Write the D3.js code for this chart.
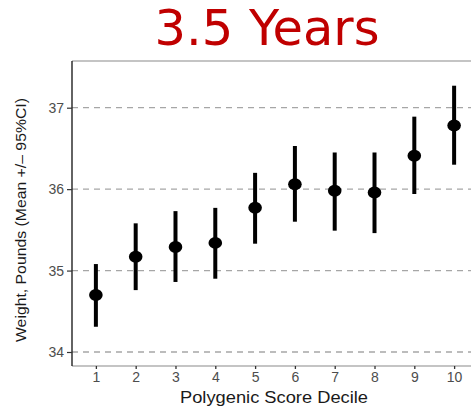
<!DOCTYPE html>
<html>
<head>
<meta charset="utf-8">
<script src="https://cdn.jsdelivr.net/npm/d3@7"></script>
<style>
  body { margin: 0; background: #fff; }
  svg { display: block; }
</style>
</head>
<body>
<div id="chart"></div>
<script>
// Decile means with 95% CI
const deciles = [1, 2, 3, 4, 5, 6, 7, 8, 9, 10];
const means = [34.70, 35.17, 35.29, 35.34, 35.77, 36.06, 35.98, 35.96, 36.41, 36.78];
const lower = [34.31, 34.76, 34.86, 34.90, 35.33, 35.60, 35.49, 35.46, 35.94, 36.30];
const upper = [35.08, 35.58, 35.73, 35.77, 36.20, 36.53, 36.45, 36.45, 36.89, 37.27];
const yTicks = [34, 35, 36, 37];

const width = 471, height = 412;
const panel = {left: 72, top: 61, right: 480, bottom: 366};

const svg = d3.select('#chart').append('svg')
  .attr('width', width)
  .attr('height', height);

const x = d3.scaleLinear().domain([0.4, 10.6]).range([panel.left, panel.right - 2]);
const y = d3.scaleLinear().domain([34, 37]).range([352, 107.7]);

// Title
svg.append('text')
  .attr('x', 267)
  .attr('y', 45)
  .attr('text-anchor', 'middle')
  .style('font-family', 'DejaVu Sans, sans-serif')
  .style('font-size', '49.5px')
  .style('fill', '#c00000')
  .text('3.5 Years');

// Dashed grid lines
svg.append('g')
  .selectAll('line')
  .data(yTicks)
  .join('line')
  .attr('x1', panel.left)
  .attr('x2', width)
  .attr('y1', d => y(d))
  .attr('y2', d => y(d))
  .attr('stroke', '#a6a6a6')
  .attr('stroke-width', 1.3)
  .attr('stroke-dasharray', '6,5');

// Top and bottom border of panel
svg.append('g')
  .selectAll('line')
  .data([panel.top, panel.bottom])
  .join('line')
  .attr('x1', panel.left).attr('x2', width)
  .attr('y1', d => d).attr('y2', d => d)
  .attr('stroke', '#8a8a8a')
  .attr('stroke-width', 1.2);

// Y axis
const yAxis = svg.append('g')
  .attr('transform', 'translate(' + panel.left + ',0)')
  .call(d3.axisLeft(y).tickValues(yTicks).tickFormat(d3.format('d')).tickSize(5).tickPadding(3));
yAxis.select('.domain')
  .attr('d', 'M0,' + panel.top + 'V' + panel.bottom)
  .attr('stroke', '#222')
  .attr('stroke-width', 1.4);
yAxis.selectAll('.tick line').attr('stroke', '#333').attr('stroke-width', 1.2);
yAxis.selectAll('.tick text')
  .style('font-family', 'Liberation Sans, Arial, sans-serif')
  .style('font-size', '14px')
  .style('fill', '#4d4d4d');

// X axis (ticks only)
const xAxis = svg.append('g')
  .attr('transform', 'translate(0,' + panel.bottom + ')')
  .call(d3.axisBottom(x).tickValues(deciles).tickFormat(d3.format('d')).tickSize(3).tickPadding(3));
xAxis.select('.domain').remove();
xAxis.selectAll('.tick line').attr('stroke', '#333').attr('stroke-width', 1.3);
xAxis.selectAll('.tick text')
  .style('font-family', 'Liberation Sans, Arial, sans-serif')
  .style('font-size', '14px')
  .style('fill', '#4d4d4d');

// Axis titles
svg.append('text')
  .attr('x', 274)
  .attr('y', 403)
  .attr('text-anchor', 'middle')
  .attr('textLength', 188)
  .attr('lengthAdjust', 'spacingAndGlyphs')
  .style('font-family', 'Liberation Sans, Arial, sans-serif')
  .style('font-size', '16px')
  .style('fill', '#1a1a1a')
  .text('Polygenic Score Decile');

svg.append('text')
  .attr('transform', 'translate(26,220) rotate(-90)')
  .attr('text-anchor', 'middle')
  .attr('textLength', 244)
  .attr('lengthAdjust', 'spacingAndGlyphs')
  .style('font-family', 'Liberation Sans, Arial, sans-serif')
  .style('font-size', '15px')
  .style('fill', '#1a1a1a')
  .text('Weight, Pounds (Mean +/\u2013 95%CI)');

// Error bars and points
const rows = deciles.map((d, i) => ({d: d, m: means[i], lo: lower[i], hi: upper[i]}));
const marks = svg.append('g');
marks.selectAll('line')
  .data(rows)
  .join('line')
  .attr('x1', r => x(r.d))
  .attr('x2', r => x(r.d))
  .attr('y1', r => y(r.lo))
  .attr('y2', r => y(r.hi))
  .attr('stroke', '#000')
  .attr('stroke-width', 4);
marks.selectAll('ellipse')
  .data(rows)
  .join('ellipse')
  .attr('cx', r => x(r.d))
  .attr('cy', r => y(r.m))
  .attr('rx', 6.8)
  .attr('ry', 6)
  .attr('fill', '#000');
</script>
</body>
</html>
